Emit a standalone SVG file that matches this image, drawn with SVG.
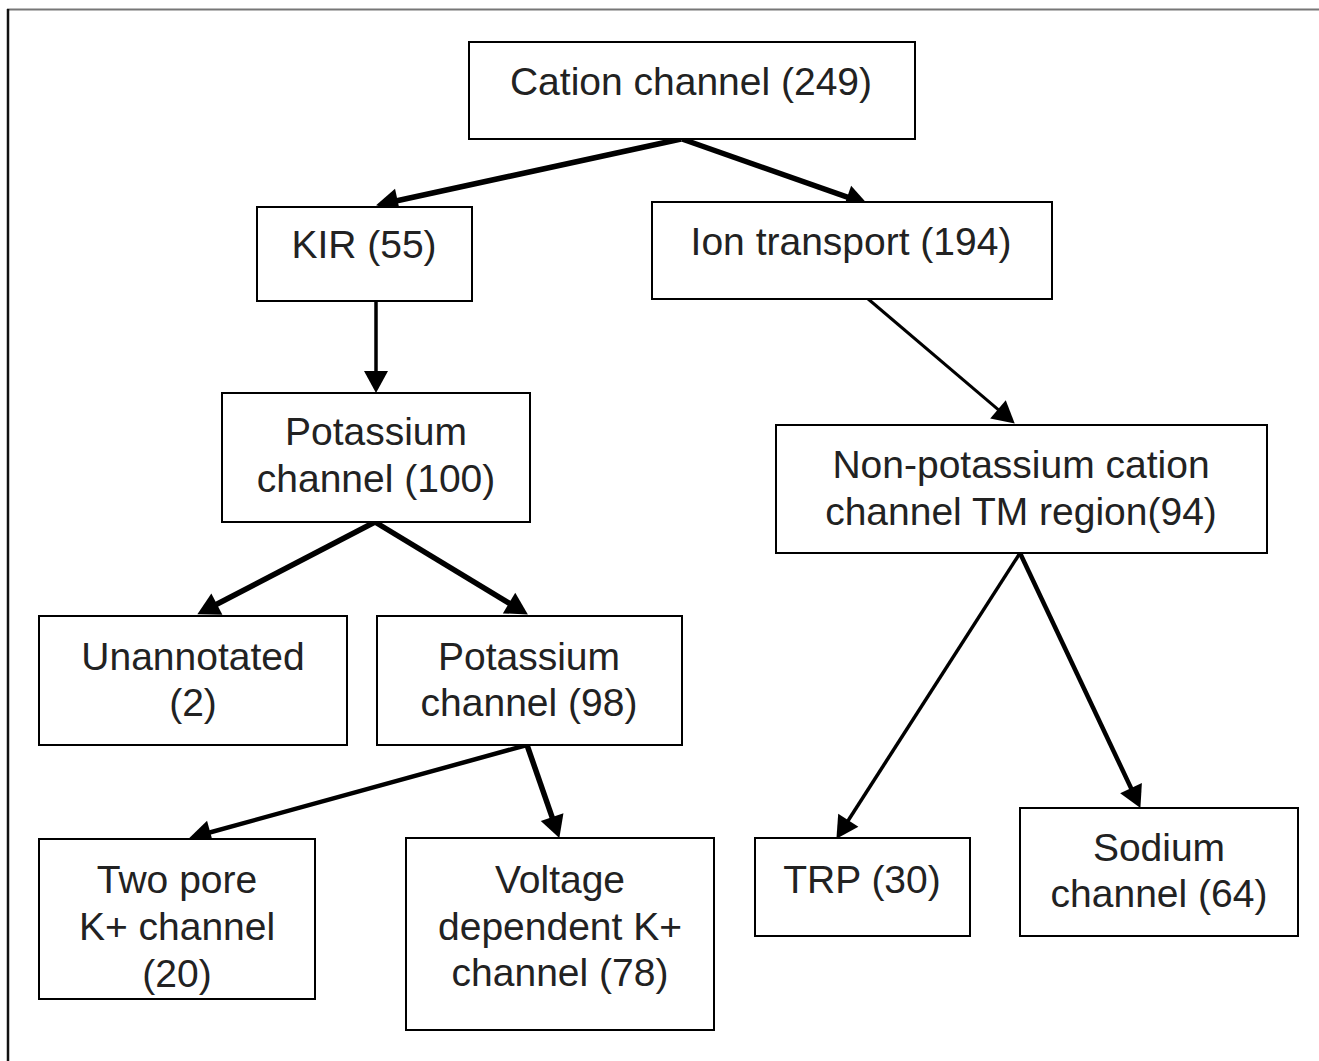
<svg xmlns="http://www.w3.org/2000/svg" width="1319" height="1061" viewBox="0 0 1319 1061">
<style>
.box{fill:#fff;stroke:#000;stroke-width:2}
.lbl{font-family:"Liberation Sans",Arial,sans-serif;font-size:39px;fill:#222;text-anchor:middle}
.arr{stroke:#000;fill:none;stroke-linecap:butt;marker-end:url(#ah)}
</style>
<defs>
<marker id="ah" markerUnits="userSpaceOnUse" markerWidth="26" markerHeight="26" refX="10" refY="12" orient="auto" overflow="visible">
<path d="M0,0 L22,12 L0,24 Z" fill="#000"/>
</marker>
</defs>
<rect width="1319" height="1061" fill="#fff"/>
<line x1="7" y1="9.5" x2="1319" y2="9.5" stroke="#777" stroke-width="2"/>
<line x1="8" y1="9" x2="8" y2="1061" stroke="#111" stroke-width="2.5"/>

<g id="connectors">
<line class="arr" x1="681" y1="139" x2="387.8" y2="202.7" stroke-width="5.5"/>
<line class="arr" x1="682" y1="139" x2="856.6" y2="200.4" stroke-width="5.5"/>
<line class="arr" x1="376" y1="297" x2="376" y2="381" stroke-width="3.5"/>
<line class="arr" x1="867" y1="298" x2="1005.6" y2="415.8" stroke-width="3"/>
<line class="arr" x1="375" y1="522" x2="208" y2="608.8" stroke-width="5.5"/>
<line class="arr" x1="375" y1="522" x2="517.6" y2="608.3" stroke-width="5.5"/>
<line class="arr" x1="527" y1="745" x2="200.6" y2="835" stroke-width="4.5"/>
<line class="arr" x1="527" y1="745" x2="555.4" y2="826.6" stroke-width="5.5"/>
<line class="arr" x1="1020" y1="553" x2="842.9" y2="828.7" stroke-width="3.5"/>
<line class="arr" x1="1020" y1="553" x2="1135.3" y2="797.1" stroke-width="4.5"/>
</g>

<g id="cation">
<rect class="box" x="469" y="42" width="446" height="97"/>
<text class="lbl" x="691" y="95">Cation channel (249)</text>
</g>
<g id="kir">
<rect class="box" x="257" y="207" width="215" height="94"/>
<text class="lbl" x="364" y="258">KIR (55)</text>
</g>
<g id="ion">
<rect class="box" x="652" y="202" width="400" height="97"/>
<text class="lbl" x="851" y="255">Ion transport (194)</text>
</g>
<g id="potassium100">
<rect class="box" x="222" y="393" width="308" height="129"/>
<text class="lbl" x="376" y="445">Potassium</text>
<text class="lbl" x="376" y="492">channel (100)</text>
</g>
<g id="nonpotassium">
<rect class="box" x="776" y="425" width="491" height="128"/>
<text class="lbl" x="1021" y="478">Non-potassium cation</text>
<text class="lbl" x="1021" y="525">channel TM region(94)</text>
</g>
<g id="unannotated">
<rect class="box" x="39" y="616" width="308" height="129"/>
<text class="lbl" x="193" y="670">Unannotated</text>
<text class="lbl" x="193" y="716">(2)</text>
</g>
<g id="potassium98">
<rect class="box" x="377" y="616" width="305" height="129"/>
<text class="lbl" x="529" y="670">Potassium</text>
<text class="lbl" x="529" y="716">channel (98)</text>
</g>
<g id="twopore">
<rect class="box" x="39" y="839" width="276" height="160"/>
<text class="lbl" x="177" y="893">Two pore</text>
<text class="lbl" x="177" y="940">K+ channel</text>
<text class="lbl" x="177" y="987">(20)</text>
</g>
<g id="voltage">
<rect class="box" x="406" y="838" width="308" height="192"/>
<text class="lbl" x="560" y="893">Voltage</text>
<text class="lbl" x="560" y="940">dependent K+</text>
<text class="lbl" x="560" y="986">channel (78)</text>
</g>
<g id="trp">
<rect class="box" x="755" y="838" width="215" height="98"/>
<text class="lbl" x="862" y="893">TRP (30)</text>
</g>
<g id="sodium">
<rect class="box" x="1020" y="808" width="278" height="128"/>
<text class="lbl" x="1159" y="861">Sodium</text>
<text class="lbl" x="1159" y="907">channel (64)</text>
</g>
</svg>
